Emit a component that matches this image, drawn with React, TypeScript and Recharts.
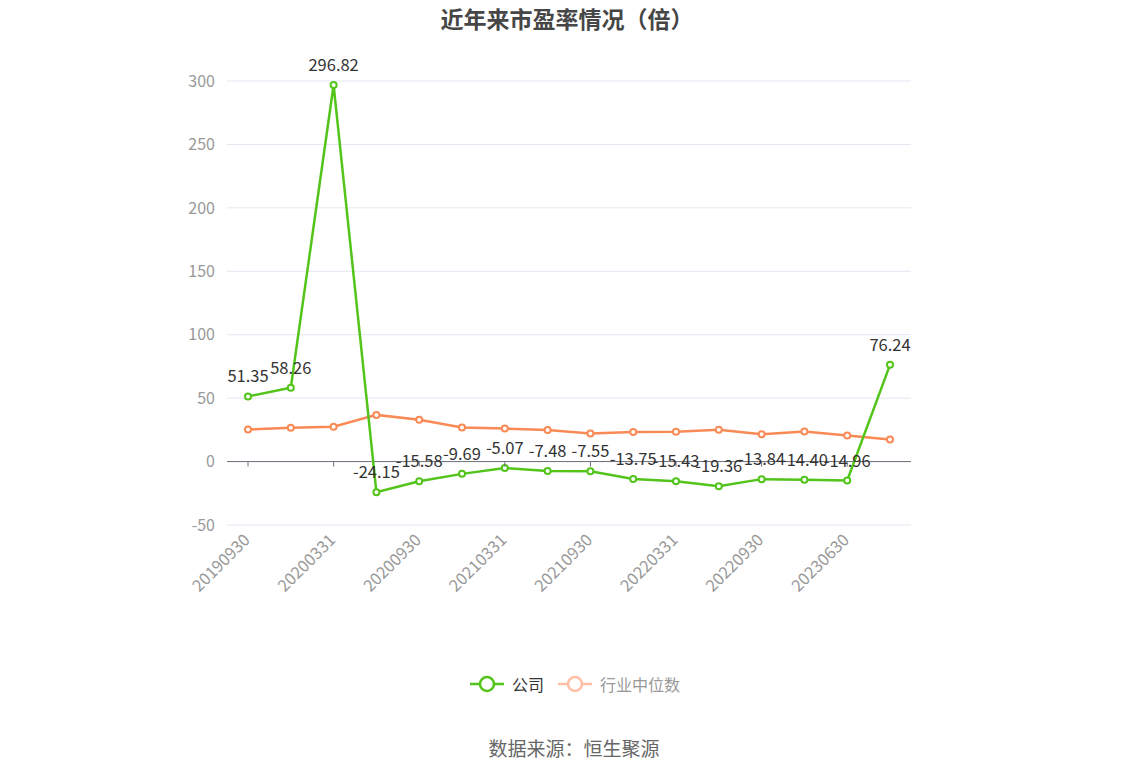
import React from 'react';
import {
  LineChart, Line, XAxis, YAxis, CartesianGrid, ReferenceLine, LabelList
} from 'recharts';

const dates = [
  '20190930', '20191231', '20200331', '20200630', '20200930', '20201231',
  '20210331', '20210630', '20210930', '20211231', '20220331', '20220630',
  '20220930', '20230331', '20230630', '20231011',
];
const companyPE = [
  51.35, 58.26, 296.82, -24.15, -15.58, -9.69, -5.07, -7.48,
  -7.55, -13.75, -15.43, -19.36, -13.84, -14.4, -14.96, 76.24,
];
const industryPE = [
  25.2, 26.6, 27.4, 36.8, 32.9, 26.8, 26.0, 24.8,
  22.1, 23.4, 23.6, 25.0, 21.5, 23.7, 20.6, 17.4,
];
const yTicks = [-50, 0, 50, 100, 150, 200, 250, 300];

const data = dates.map((d, i) => ({ date: d, company: companyPE[i], industry: industryPE[i] }));

const FONT = '"Noto Sans CJK SC", "Microsoft YaHei", sans-serif';
const GREEN = '#52C41A';
const ORANGE = '#FA8A55';

const W = 1148;
const H = 776;
const TOP = 81;
const PLOT_H = 444;
const ZERO_Y = TOP + (PLOT_H * 300) / 350;

const XTick = (props: any) => {
  const { x, y, payload } = props;
  return (
    <g>
      <line x1={x} x2={x} y1={ZERO_Y} y2={ZERO_Y + 5} stroke="#6E7079" />
      <text
        x={x + 3}
        y={y + 8}
        textAnchor="end"
        fill="#999"
        fontSize={16.5}
        fontFamily={FONT}
        transform={`rotate(-45, ${x + 3}, ${y + 8})`}
      >
        {payload.value}
      </text>
    </g>
  );
};

const LegendIcon = ({ color }: { color: string }) => (
  <svg width={34} height={18} style={{ verticalAlign: 'middle' }}>
    <line x1={0} x2={34} y1={9} y2={9} stroke={color} strokeWidth={2.5} />
    <circle cx={17} cy={9} r={7} fill="#fff" stroke={color} strokeWidth={2.5} />
  </svg>
);

export default function App() {
  return (
    <div style={{ position: 'absolute', left: 0, top: 0, width: W, height: H, background: '#fff', fontFamily: FONT }}>
      <div style={{ position: 'absolute', top: 1, left: 0, width: W - 14, textAlign: 'center', fontSize: 23, fontWeight: 'bold', color: '#464646' }}>
        近年来市盈率情况（倍）
      </div>
      <LineChart width={W} height={H} data={data} margin={{ top: TOP, right: 237, left: 167, bottom: 171 }}>
        <CartesianGrid vertical={false} stroke="#E3E7F1" />
        <XAxis
          dataKey="date"
          interval={1}
          axisLine={false}
          tickLine={false}
          padding={{ left: 21, right: 21 }}
          height={80}
          tick={<XTick />}
        />
        <YAxis
          domain={[-50, 300]}
          ticks={yTicks}
          axisLine={false}
          tickLine={false}
          width={60}
          tickMargin={6}
          tick={{ fill: '#999', fontSize: 16, fontFamily: FONT }}
        />
        <ReferenceLine y={0} stroke="#6E7079" />
        <Line
          dataKey="industry"
          stroke={ORANGE}
          strokeWidth={2.5}
          dot={{ r: 3, fill: '#fff', stroke: ORANGE, strokeWidth: 2 }}
          isAnimationActive={false}
        />
        <Line
          dataKey="company"
          stroke={GREEN}
          strokeWidth={2.5}
          dot={{ r: 3, fill: '#fff', stroke: GREEN, strokeWidth: 2 }}
          isAnimationActive={false}
        >
          <LabelList
            dataKey="company"
            position="top"
            offset={14}
            fill="#333"
            fontSize={16.5}
            fontFamily={FONT}
            formatter={(v: any) => Number(v).toFixed(2)}
          />
        </Line>
      </LineChart>
      <div style={{ position: 'absolute', top: 672, left: 0, width: W, display: 'flex', justifyContent: 'center', alignItems: 'center', fontSize: 16 }}>
        <div style={{ marginLeft: 2, display: 'flex', alignItems: 'center' }}>
          <LegendIcon color={GREEN} />
          <span style={{ color: '#333', marginLeft: 8 }}>公司</span>
          <span style={{ width: 14 }} />
          <LegendIcon color="#FDBFA6" />
          <span style={{ color: '#999', marginLeft: 8 }}>行业中位数</span>
        </div>
      </div>
      <div style={{ position: 'absolute', top: 734, left: 0, width: W, textAlign: 'center', fontSize: 19, color: '#666' }}>
        数据来源：恒生聚源
      </div>
    </div>
  );
}
